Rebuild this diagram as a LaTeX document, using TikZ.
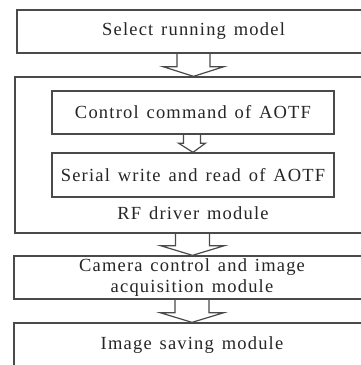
\documentclass[tikz,border=0pt]{standalone}
\usepackage{fontspec}
\setmainfont{Liberation Serif}[LetterSpace=6.5, WordSpace=1.35]
\usetikzlibrary{calc}
\definecolor{ln}{HTML}{4A4A4A}
\definecolor{tx}{HTML}{262626}
\begin{document}
\begin{tikzpicture}[x=1pt,y=-1pt,
  box/.style={draw=ln, line width=1.3pt, inner sep=0pt, text=tx,
    font=\fontsize{18.5}{20.5}\selectfont, align=center},
  lbl/.style={inner sep=0pt, text=tx, font=\fontsize{18.5}{20.5}\selectfont},
  blockarrow/.style={draw=ln, line width=1.2pt, line join=miter}]
\useasboundingbox (0,0) rectangle (361,365);
\clip (0,0) rectangle (361,365);
\fill[white] (0,0) rectangle (361,365);

\node[box, minimum width=353pt, minimum height=43pt] (sel) at (193.5,31.5) {Select running model};
\node[box, minimum width=355pt, minimum height=156pt] (rf) at (192.5,155) {};
\node[box, minimum width=282pt, minimum height=43pt] (cmd) at (193,112.5) {Control command of AOTF};
\node[box, minimum width=282pt, minimum height=44pt] (ser) at (193,175) {Serial write and read of AOTF};
\node[lbl, anchor=base] (rfl) at (193,219) {RF driver module};
\node[box, minimum width=356pt, minimum height=43pt] (cam) at (192,277.5) {Camera control and image\\acquisition module};
\node[box, minimum width=356pt, minimum height=45pt] (sav) at (192,345.5) {Image saving module};

% block arrows
\draw[blockarrow] ($(sel.south)+(-16.5,0)$) -- ($(sel.south)+(-16.5,13)$) -- ($(sel.south)+(-30.5,13)$)
  -- (sel.south |- rf.north) -- ($(sel.south)+(30.5,13)$) -- ($(sel.south)+(16.5,13)$) -- ($(sel.south)+(16.5,0)$);
\draw[blockarrow] ($(cmd.south)+(-9.5,0)$) -- ($(cmd.south)+(-9.5,8.5)$) -- ($(cmd.south)+(-14.5,8.5)$)
  -- (cmd.south |- ser.north) -- ($(cmd.south)+(12.5,8.5)$) -- ($(cmd.south)+(7.5,8.5)$) -- ($(cmd.south)+(7.5,0)$);
\draw[blockarrow] ($(rf.south)+(-17,0)$) -- ($(rf.south)+(-17,12)$) -- ($(rf.south)+(-32,12)$)
  -- (rf.south |- cam.north) -- ($(rf.south)+(32,12)$) -- ($(rf.south)+(17,12)$) -- ($(rf.south)+(17,0)$);
\draw[blockarrow] ($(cam.south)+(-17,0)$) -- ($(cam.south)+(-17,13)$) -- ($(cam.south)+(-32,13)$)
  -- (cam.south |- sav.north) -- ($(cam.south)+(32,13)$) -- ($(cam.south)+(17,13)$) -- ($(cam.south)+(17,0)$);
\end{tikzpicture}
\end{document}
